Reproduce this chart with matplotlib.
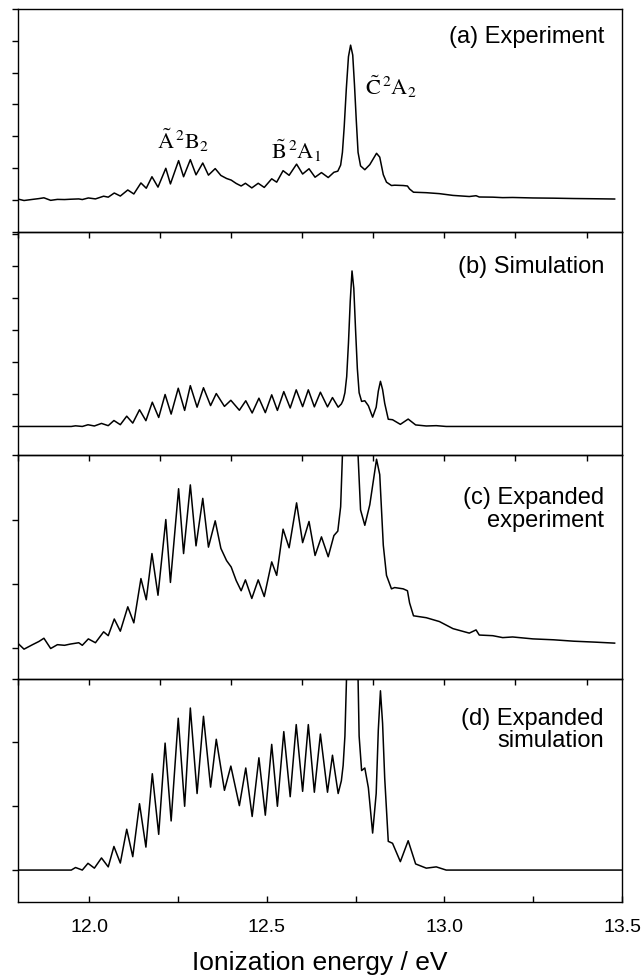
import numpy as np
import matplotlib
matplotlib.use("Agg")
import matplotlib.pyplot as plt
from matplotlib.ticker import MultipleLocator

plt.rcParams['font.family'] = ['Liberation Sans', 'DejaVu Sans']
plt.rcParams['mathtext.fontset'] = 'stix'

# experiment (units of panel a, baseline = 0)
exp_x = [11.800, 11.817, 11.841, 11.859, 11.873, 11.892, 11.911, 11.931, 11.948, 11.971,
         11.981, 11.998, 12.018, 12.041, 12.054, 12.071, 12.088, 12.109, 12.126, 12.146,
         12.161, 12.177, 12.194, 12.216, 12.229, 12.252, 12.266, 12.285, 12.301, 12.320,
         12.336, 12.355, 12.371, 12.387, 12.400, 12.414, 12.428, 12.440, 12.458, 12.476,
         12.493, 12.514, 12.528, 12.546, 12.563, 12.584, 12.601, 12.619, 12.636, 12.654,
         12.673, 12.689, 12.700, 12.708, 12.713, 12.718, 12.724, 12.730, 12.736, 12.742,
         12.747, 12.752, 12.757, 12.764, 12.776, 12.790, 12.809, 12.818, 12.828, 12.837,
         12.851, 12.860, 12.884, 12.896, 12.902, 12.913, 12.949, 12.986, 13.024, 13.070,
         13.089, 13.098, 13.136, 13.164, 13.192, 13.249, 13.307, 13.364, 13.422, 13.479]
exp_y = [0.035, -0.010, 0.025, 0.050, 0.075, -0.005, 0.025, 0.020, 0.030, 0.040,
         0.020, 0.070, 0.040, 0.125, 0.095, 0.225, 0.130, 0.320, 0.195, 0.540,
         0.375, 0.735, 0.410, 1.000, 0.510, 1.240, 0.735, 1.270, 0.795, 1.165,
         0.785, 0.990, 0.775, 0.680, 0.630, 0.525, 0.445, 0.530, 0.385, 0.530,
         0.400, 0.670, 0.565, 0.925, 0.780, 1.130, 0.820, 0.985, 0.720, 0.865,
         0.710, 0.875, 0.910, 1.100, 1.500, 2.300, 3.500, 4.500, 4.860, 4.550,
         3.600, 2.500, 1.500, 1.075, 0.955, 1.115, 1.470, 1.350, 0.800, 0.565,
         0.460, 0.470, 0.460, 0.445, 0.350, 0.250, 0.235, 0.205, 0.150, 0.115,
         0.140, 0.100, 0.095, 0.080, 0.085, 0.070, 0.063, 0.052, 0.045, 0.037]

# simulation (units of panel b)
sim_x = [11.800, 11.950, 11.962, 11.981, 11.997, 12.015, 12.035, 12.054, 12.070, 12.088,
         12.106, 12.123, 12.142, 12.160, 12.178, 12.196, 12.214, 12.231, 12.251, 12.269,
         12.285, 12.304, 12.322, 12.342, 12.358, 12.381, 12.399, 12.423, 12.441, 12.459,
         12.478, 12.496, 12.514, 12.530, 12.548, 12.566, 12.583, 12.601, 12.617, 12.634,
         12.651, 12.671, 12.685, 12.701, 12.710, 12.715, 12.720, 12.725, 12.730, 12.735,
         12.740, 12.745, 12.750, 12.755, 12.760, 12.767, 12.776, 12.786, 12.798, 12.808,
         12.814, 12.820, 12.826, 12.832, 12.842, 12.854, 12.876, 12.898, 12.919, 12.949,
         12.977, 13.005, 13.500]
sim_y = [0.000, 0.000, 0.020, 0.000, 0.053, 0.015, 0.095, 0.025, 0.185, 0.055,
         0.320, 0.105, 0.520, 0.180, 0.755, 0.280, 0.995, 0.385, 1.190, 0.500,
         1.270, 0.600, 1.205, 0.650, 1.025, 0.625, 0.815, 0.505, 0.800, 0.420,
         0.880, 0.430, 0.985, 0.500, 1.085, 0.575, 1.140, 0.617, 1.140, 0.610,
         1.066, 0.610, 0.900, 0.600, 0.700, 0.820, 1.050, 1.550, 2.600, 3.900,
         4.840, 4.300, 3.000, 1.800, 1.050, 0.780, 0.800, 0.645, 0.290, 0.600,
         1.100, 1.405, 1.150, 0.720, 0.225, 0.210, 0.066, 0.230, 0.048, 0.015,
         0.025, 0.000, 0.000]

panel_labels = ['(a) Experiment', '(b) Simulation',
                '(c) Expanded\nexperiment', '(d) Expanded\nsimulation']

fig, axes = plt.subplots(4, 1, figsize=(6.42, 9.77), dpi=100,
                         gridspec_kw=dict(hspace=0))
fig.subplots_adjust(left=0.028, right=0.969, top=0.991, bottom=0.0768)

series = [(exp_x, exp_y), (sim_x, sim_y), (exp_x, exp_y), (sim_x, sim_y)]
ylims = [(-1.0, 6.0), (-0.9, 6.05), (-0.24, 1.5), (-0.25, 1.5)]
ysteps = [1.0, 1.0, 0.5, 0.5]
label_y = [0.875, 0.843, 0.758, 0.769]

for i, ax in enumerate(axes):
    ax.set_facecolor('none')
    x, y = series[i]
    ax.plot(x, y, color='black', lw=1.1, solid_joinstyle='round')
    ax.set_xlim(11.8, 13.5)
    ax.set_ylim(*ylims[i])
    ax.yaxis.set_major_locator(MultipleLocator(ysteps[i]))
    ax.tick_params(axis='y', direction='out', length=4, width=1, labelleft=False)
    for s in ax.spines.values():
        s.set_linewidth(1.0)
    ax.text(0.97, label_y[i], panel_labels[i], transform=ax.transAxes,
            ha='right', va='center', fontsize=17, linespacing=1.02,
            multialignment='right')
    if i < 3:
        ax.xaxis.set_major_locator(MultipleLocator(0.2))
        ax.tick_params(axis='x', direction='out', length=4, width=1,
                       labelbottom=False)
    else:
        ax.xaxis.set_major_locator(MultipleLocator(0.5))
        ax.xaxis.set_minor_locator(MultipleLocator(0.25))
        ax.xaxis.set_major_formatter(matplotlib.ticker.FormatStrFormatter('%.1f'))
        ax.tick_params(axis='x', which='both', direction='in', length=4, width=1,
                       labelsize=14, pad=12)
        ax.set_xlabel('Ionization energy / eV', fontsize=19, labelpad=11)

# state labels in panel a
axa = axes[0]
axa.text(12.264, 1.59, r'$\tilde{\mathrm{A}}^{\,2}\mathrm{B}_2$', fontsize=16,
         ha='center', va='baseline')
axa.text(12.584, 1.28, r'$\tilde{\mathrm{B}}^{\,2}\mathrm{A}_1$', fontsize=16,
         ha='center', va='baseline')
axa.text(12.848, 3.31, r'$\tilde{\mathrm{C}}^{\,2}\mathrm{A}_2$', fontsize=16,
         ha='center', va='baseline')

fig.savefig('out.png', dpi=100, facecolor='white')
